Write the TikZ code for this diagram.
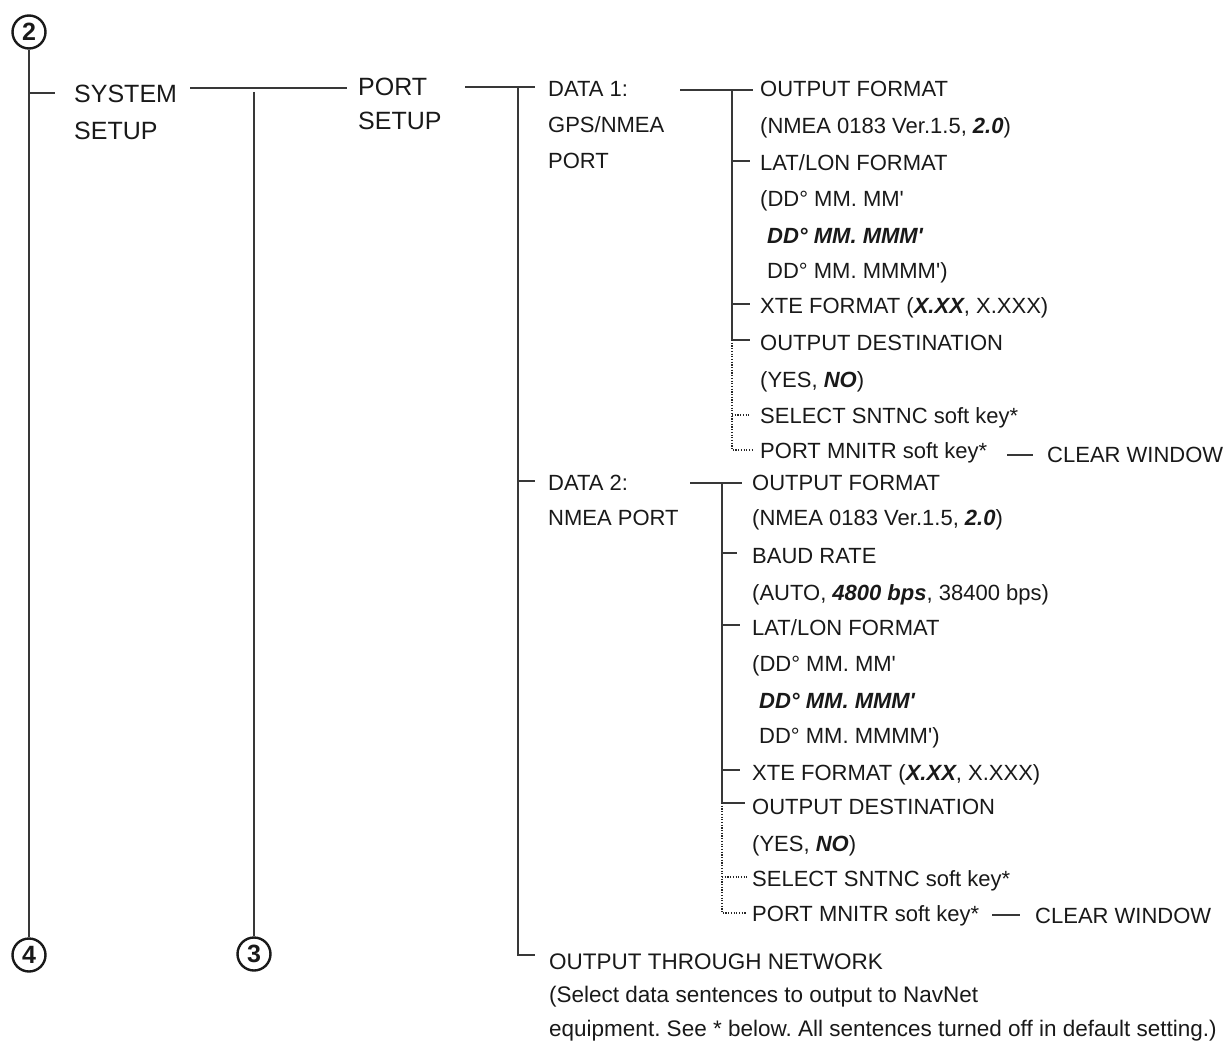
\documentclass[tikz,border=0pt]{standalone}
\usepackage{fontspec}
\newfontfamily\lsans{Liberation Sans}
\newcommand\bfit[1]{{\bfseries\itshape #1}}
\frenchspacing
\tikzset{
 ln/.style={line width=1.3pt, draw=black!78},
 dt/.style={line width=1.4pt, draw=black!85, dash pattern=on 1.2pt off 1.5pt},
 tx/.style={anchor=base west, inner sep=0pt, text=black!90, font=\lsans\fontsize{22}{26}\selectfont},
 tbig/.style={tx, font=\lsans\fontsize{25}{30}\selectfont},
 tnote/.style={tx, font=\lsans\fontsize{22.5}{26}\selectfont},
 cnum/.style={circle, draw=black!90, line width=2.4pt, minimum size=33pt, inner sep=0pt, text=black!90, font=\lsans\bfseries\fontsize{25}{25}\selectfont},
}
\begin{document}
\begin{tikzpicture}[x=1pt,y=-1pt]
\useasboundingbox (0,0) rectangle (1228,1043);
% circled numbers
\node[cnum] (c2) at (29,32) {2};
\node[cnum] (c4) at (29,955) {4};
\node[cnum] (c3) at (254,954) {3};
% level 1 and 2 texts
\node[tbig] (sys1) at (74,103) {SYSTEM};
\node[tbig] (sys2) at (74,140) {SETUP};
\node[tbig] (port1) at (358,96) {PORT};
\node[tbig] (port2) at (358,130) {SETUP};
% level 3 texts
\node[tx] (d1a) at (548,97) {DATA 1:};
\node[tx] (d1b) at (548,133) {GPS/NMEA};
\node[tx] (d1c) at (548,169) {PORT};
\node[tx] (d2a) at (548,490) {DATA 2:};
\node[tx] (d2b) at (548,525) {NMEA PORT};
\node[tnote] (otn1) at (549,969) {OUTPUT THROUGH NETWORK};
\node[tnote] (otn2) at (549,1002) {(Select data sentences to output to NavNet};
\node[tnote] (otn3) at (549,1036) {equipment. See * below. All sentences turned off in default setting.)};
% DATA 1 items
\node[tx] (o1) at (760,97) {OUTPUT FORMAT};
\node[tx] (o2) at (760,134) {(NMEA 0183 Ver.1.5, \bfit{2.0})};
\node[tx] (o3) at (760,171) {LAT/LON FORMAT};
\node[tx] (o4) at (760,207) {(DD° MM. MM'};
\node[tx] (o5) at (767,243) {\bfit{DD° MM. MMM'}};
\node[tx] (o6) at (767,278) {DD° MM. MMMM')};
\node[tx] (o7) at (760,313) {XTE FORMAT (\bfit{X.XX}, X.XXX)};
\node[tx] (o8) at (760,350) {OUTPUT DESTINATION};
\node[tx] (o9) at (760,387) {(YES, \bfit{NO})};
\node[tx] (o10) at (760,423) {SELECT SNTNC soft key*};
\node[tx] (o11) at (760,458) {PORT MNITR soft key*};
\node[tx] (cw1) at (1047,462) {CLEAR WINDOW};
% DATA 2 items
\node[tx] (p1) at (752,490) {OUTPUT FORMAT};
\node[tx] (p2) at (752,525) {(NMEA 0183 Ver.1.5, \bfit{2.0})};
\node[tx] (p3) at (752,563) {BAUD RATE};
\node[tx] (p4) at (752,600) {(AUTO, \bfit{4800 bps}, 38400 bps)};
\node[tx] (p5) at (752,635) {LAT/LON FORMAT};
\node[tx] (p6) at (752,671) {(DD° MM. MM'};
\node[tx] (p7) at (759,708) {\bfit{DD° MM. MMM'}};
\node[tx] (p8) at (759,743) {DD° MM. MMMM')};
\node[tx] (p9) at (752,780) {XTE FORMAT (\bfit{X.XX}, X.XXX)};
\node[tx] (p10) at (752,814) {OUTPUT DESTINATION};
\node[tx] (p11) at (752,851) {(YES, \bfit{NO})};
\node[tx] (p12) at (752,886) {SELECT SNTNC soft key*};
\node[tx] (p13) at (752,921) {PORT MNITR soft key*};
\node[tx] (cw2) at (1035,923) {CLEAR WINDOW};
% junction coordinates
\coordinate (a1) at (29,93);   \coordinate (a2) at (55,93);
\coordinate (b1) at (190,88);  \coordinate (b2) at (347,88);
\coordinate (bt) at (254,92);
\coordinate (cL) at (465,87);  \coordinate (cT) at (518,87); \coordinate (cR) at (535,87);
\coordinate (cD2) at (518,481); \coordinate (cD2r) at (535,481);
\coordinate (cB) at (518,955); \coordinate (cBr) at (535,955);
% data 1 tree
\coordinate (dL) at (680,90); \coordinate (dT) at (732,90); \coordinate (dR) at (753,90);
\coordinate (d3) at (732,161); \coordinate (d3r) at (750,161);
\coordinate (d7) at (732,304); \coordinate (d7r) at (750,304);
\coordinate (d8) at (732,340); \coordinate (d8r) at (750,340);
\coordinate (d10) at (732,415); \coordinate (d10r) at (750,415);
\coordinate (d11) at (732,450); \coordinate (d11r) at (752,450);
\coordinate (k1a) at (1007,455); \coordinate (k1b) at (1033,455);
% data 2 tree
\coordinate (eL) at (690,483); \coordinate (eT) at (722,483); \coordinate (eR) at (742,483);
\coordinate (e3) at (722,553); \coordinate (e3r) at (737,553);
\coordinate (e5) at (722,625); \coordinate (e5r) at (740,625);
\coordinate (e9) at (722,770); \coordinate (e9r) at (740,770);
\coordinate (e10) at (722,803); \coordinate (e10r) at (745,803);
\coordinate (e12) at (722,877); \coordinate (e12r) at (747,877);
\coordinate (e13) at (722,913); \coordinate (e13r) at (747,913);
\coordinate (k2a) at (992,915); \coordinate (k2b) at (1020,915);
% connectors
\draw[ln] (c2.south) -- (c4.north);
\draw[ln] (a1) -- (a2);
\draw[ln] (b1) -- (b2);
\draw[ln] (bt) -- (c3.north);
\draw[ln] (cL) -- (cR);
\draw[ln] (cT) -- (cB) -- (cBr);
\draw[ln] (cD2) -- (cD2r);
\draw[ln] (dL) -- (dR);
\draw[ln] (dT) -- (d8) -- (d8r);
\draw[ln] (d3) -- (d3r);
\draw[ln] (d7) -- (d7r);
\draw[dt] (d8) -- (d11) -- (d11r);
\draw[dt] (d10) -- (d10r);
\draw[ln] (k1a) -- (k1b);
\draw[ln] (eL) -- (eR);
\draw[ln] (eT) -- (e10) -- (e10r);
\draw[ln] (e3) -- (e3r);
\draw[ln] (e5) -- (e5r);
\draw[ln] (e9) -- (e9r);
\draw[dt] (e10) -- (e13) -- (e13r);
\draw[dt] (e12) -- (e12r);
\draw[ln] (k2a) -- (k2b);
\end{tikzpicture}
\end{document}
